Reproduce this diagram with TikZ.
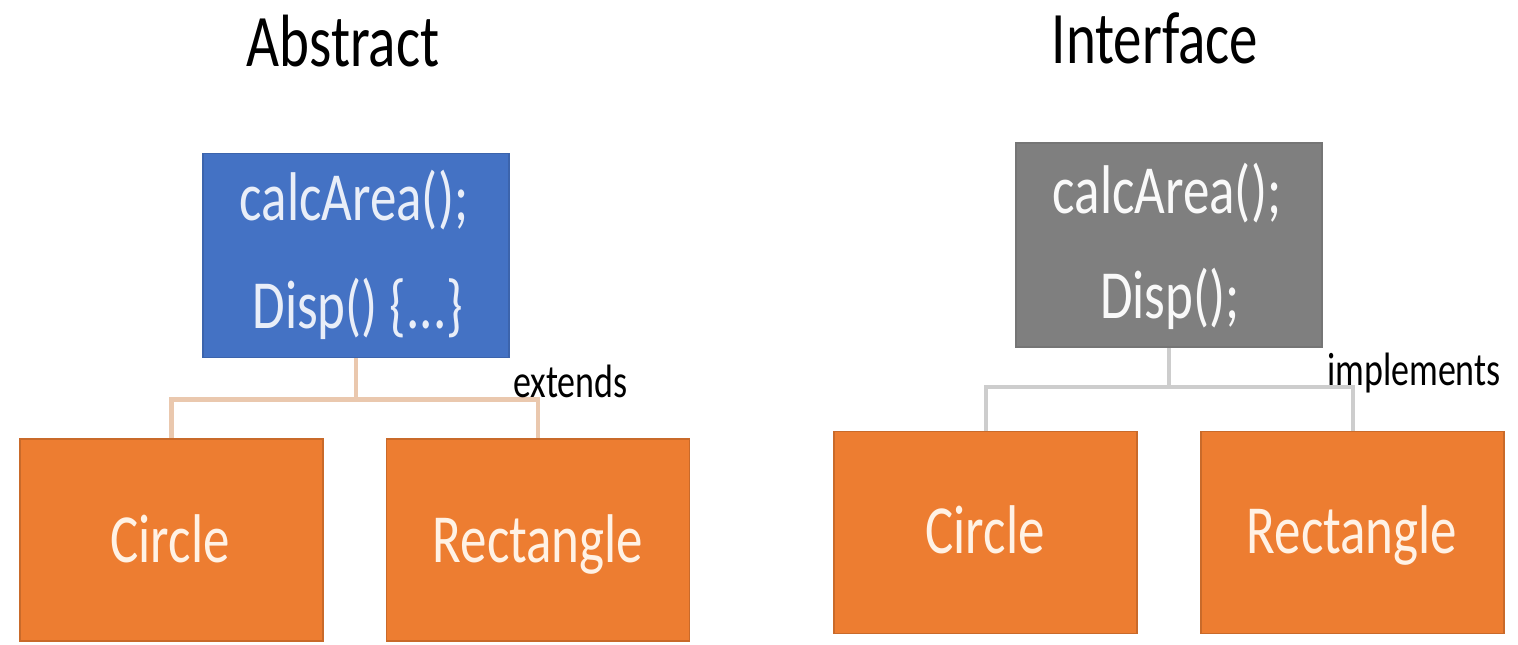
\documentclass[tikz,border=0pt]{standalone}
\usepackage{fontspec}
\usepackage{graphicx}
\setmainfont{Carlito}
\definecolor{absblue}{HTML}{4472C4}
\definecolor{ifgrey}{HTML}{7F7F7F}
\definecolor{kidorange}{HTML}{ED7D31}
\definecolor{peach}{HTML}{EAC8AE}
\definecolor{lightgrey}{HTML}{CDCDCD}
\newcommand{\tallt}[1]{\scalebox{1}[1.3]{#1}}
\tikzset{
  box/.style={rectangle, minimum width=306pt, minimum height=204pt, inner sep=0pt, line width=1.5pt},
  absbox/.style={box, fill=absblue, draw=absblue!88!black},
  ifbox/.style={box, fill=ifgrey, draw=ifgrey!92!black},
  kidbox/.style={box, minimum width=303pt, minimum height=202pt, fill=kidorange, draw=kidorange!85!black},
  boxtext/.style={anchor=base, inner sep=0pt, font=\fontsize{53}{60}\selectfont},
  titletext/.style={anchor=base, inner sep=0pt, font=\fontsize{57}{64}\selectfont, text=black},
  reltext/.style={anchor=base west, inner sep=0pt, font=\fontsize{36}{40}\selectfont, text=black},
  absconn/.style={draw=peach, line width=4.5pt},
  ifconn/.style={draw=lightgrey, line width=4pt},
}
\begin{document}
\begin{tikzpicture}[x=1pt,y=-1pt]
\fill[white] (0,0) rectangle (1518,645);
\useasboundingbox (0,0) rectangle (1518,645);

% ---------- Abstract ----------
\node[titletext] (abstitle) at (343,66) {\tallt{Abstract}};
\node[absbox] (abs) at (356,255.5) {};
\node[kidbox] (ac) at (171.5,540) {};
\node[kidbox] (ar) at (538,540) {};
\draw[absconn] (abs.south) -- ++(0,41) coordinate (aj) -| (ac.north);
\draw[absconn] (aj) -| (ar.north);
\node[boxtext, text=white!88!absblue] (abs1) at (354,220) {\tallt{calcArea();}};
\node[boxtext, text=white!88!absblue] (abs2) at (358,328) {\tallt{Disp() \{...\}}};
\node[boxtext, text=white!90!orange] (act) at (170,562) {\tallt{Circle}};
\node[boxtext, text=white!90!orange] (art) at (538,562) {\tallt{Rectangle}};
\node[reltext] (ext) at (513,397) {\tallt{extends}};

% ---------- Interface ----------
\node[titletext] (iftitle) at (1155,63) {\tallt{Interface}};
\node[ifbox] (ifc) at (1169,245) {};
\node[kidbox] (ic) at (985.5,532.5) {};
\node[kidbox] (ir) at (1352.5,532.5) {};
\draw[ifconn] (ifc.south) -- ++(0,39) coordinate (ij) -| (ic.north);
\draw[ifconn] (ij) -| (ir.north);
\node[boxtext, text=white!95!ifgrey] (if1) at (1167,213) {\tallt{calcArea();}};
\node[boxtext, text=white!95!ifgrey] (if2) at (1170,318) {\tallt{Disp();}};
\node[boxtext, text=white!90!orange] (ict) at (985,553) {\tallt{Circle}};
\node[boxtext, text=white!90!orange] (irt) at (1352,553) {\tallt{Rectangle}};
\node[reltext] (impl) at (1327,385) {\tallt{implements}};
\end{tikzpicture}
\end{document}
